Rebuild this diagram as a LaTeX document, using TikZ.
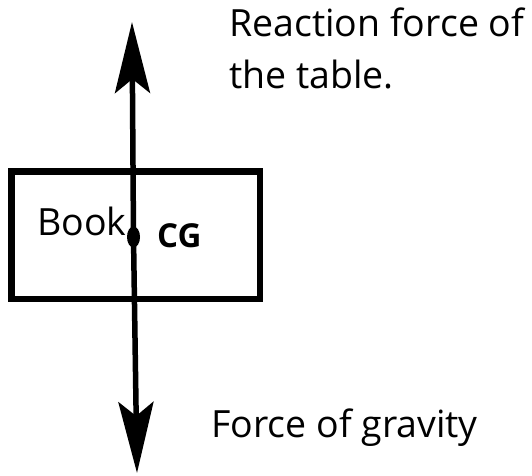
\documentclass[tikz,border=0pt]{standalone}
\usepackage{fontspec}
\setmainfont{Open Sans}
\usetikzlibrary{arrows.meta, shapes.geometric}
\begin{document}
\begin{tikzpicture}[x=1pt, y=1pt,
  label/.style={anchor=base west, inner sep=0pt, font=\fontsize{37.5}{45}\selectfont},
  force/.style={line width=5.5pt, -{Stealth[length=71pt, width=35pt, inset=14pt]}}]
  \useasboundingbox (0,0) rectangle (532,475);
  % Book
  \node[draw, line width=6.5pt, minimum width=248.5pt, minimum height=127.5pt, inner sep=0pt] (book) at (135.75,239.75) {};
  \node[label] (booktext) at (37,240) {Book};
  % Centre of gravity
  \node[fill, ellipse, inner sep=0pt, minimum width=13pt, minimum height=21pt] (cg) at (133.5,238) {};
  \node[label, font=\fontsize{33}{40}\selectfont\bfseries] (cgtext) at (157,228) {CG};
  % Forces
  \coordinate (reactiontip) at (132,453);
  \coordinate (gravitytip) at (137,2);
  \draw[force] (cg.center) -- (reactiontip);
  \draw[force] (cg.center) -- (gravitytip);
  \node[label] (reaction) at (229,438) {Reaction force of};
  \node[label] (reaction2) at (229,387) {the table.};
  \node[label] (gravity) at (211,38) {Force of gravity};
\end{tikzpicture}
\end{document}
